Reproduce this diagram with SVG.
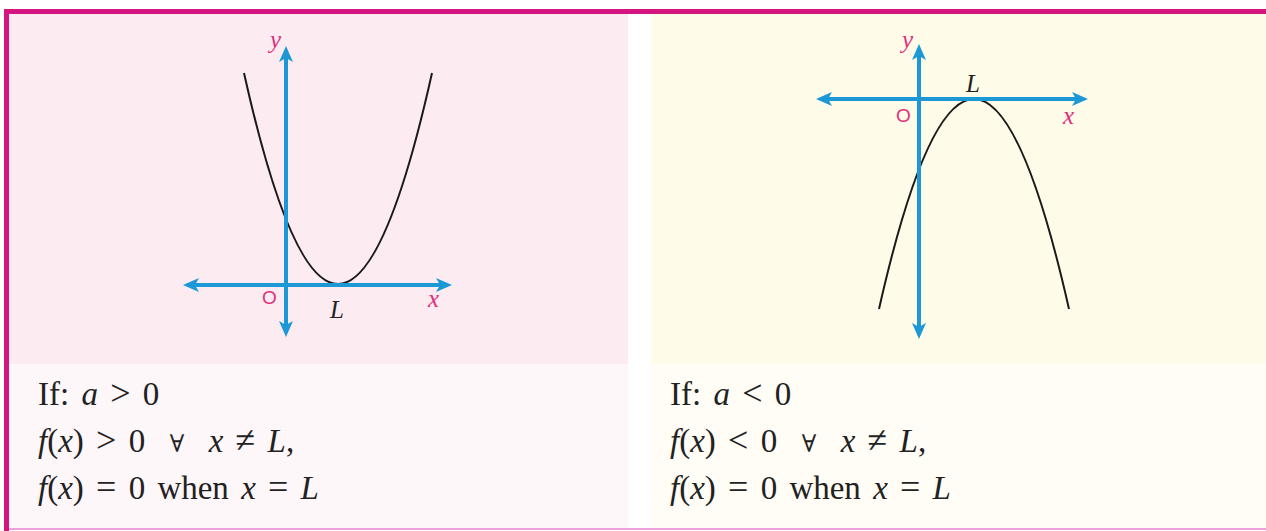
<svg xmlns="http://www.w3.org/2000/svg" width="1266" height="531" viewBox="0 0 1266 531">
<style>
.axis{stroke:#1b98d5;stroke-width:4;fill:none;marker-start:url(#ah);marker-end:url(#ah)}
.curve{stroke:#1a1a1a;stroke-width:2;fill:none}
.lbl{font-family:"Liberation Serif",serif;font-style:italic;fill:#e0307a;font-size:25px}
.org{font-family:"Liberation Sans",sans-serif;fill:#e0307a;font-size:19px}
.L{font-family:"Liberation Serif",serif;font-style:italic;fill:#222;font-size:25px}
.txt{font-family:"Liberation Serif",serif;fill:#222;font-size:33px;word-spacing:4px}
.i{font-style:italic}
.op{font-size:36px}
.fa{font-family:"DejaVu Serif",serif;font-size:24px;font-weight:normal}
</style>
<defs>
<marker id="ah" viewBox="0 0 16 14" refX="12" refY="7" markerWidth="16" markerHeight="14" markerUnits="userSpaceOnUse" orient="auto-start-reverse">
<path d="M0,0 L16,7 L0,14 L4,7 z" fill="#1b98d5"/>
</marker>
</defs>
<rect width="1266" height="531" fill="#ffffff"/>
<g id="panel-left">
<rect x="9" y="14" width="619" height="350" fill="#fdebf2"/>
<rect x="9" y="364" width="619" height="164" fill="#fef7fa"/>
</g>
<g id="panel-right">
<rect x="651" y="14" width="615" height="350" fill="#fffbe9"/>
<rect x="651" y="364" width="615" height="164" fill="#fffdf5"/>
</g>
<g id="frame">
<rect x="4" y="9" width="1262" height="5" fill="#d4157f"/>
<rect x="4" y="9" width="5" height="522" fill="#d4157f"/>
<rect x="9" y="528" width="1257" height="2" fill="#f0a0dc"/>
</g>
<g id="graph-left">
<path class="curve" d="M244,73 Q338,495 432,73"/>
<g id="connectors-left">
<line class="axis" x1="286" y1="333" x2="286" y2="50"/>
<line class="axis" x1="187" y1="285" x2="448" y2="285"/>
</g>
<text class="lbl" x="270" y="48">y</text>
<text class="org" x="262" y="304">O</text>
<text class="L" x="330" y="318">L</text>
<text class="lbl" x="428" y="307">x</text>
</g>
<g id="graph-right">
<path class="curve" d="M879,309 Q974,-111 1069,309"/>
<g id="connectors-right">
<line class="axis" x1="919" y1="335" x2="919" y2="48"/>
<line class="axis" x1="820" y1="99" x2="1084" y2="99"/>
</g>
<text class="lbl" x="902" y="48">y</text>
<text class="L" x="966" y="92">L</text>
<text class="org" x="896" y="122">O</text>
<text class="lbl" x="1063" y="124">x</text>
</g>
<g id="text-left" class="txt">
<text x="38" y="405">If: <tspan class="i">a</tspan> <tspan class="op">&gt;</tspan> 0</text>
<text x="38" y="452" xml:space="preserve"><tspan class="i">f</tspan>(<tspan class="i">x</tspan>) <tspan class="op">&gt;</tspan> 0  <tspan class="fa">∀</tspan>  <tspan class="i">x</tspan> <tspan class="op">≠</tspan> <tspan class="i">L</tspan>,</text>
<text x="38" y="499"><tspan class="i">f</tspan>(<tspan class="i">x</tspan>) <tspan class="op">=</tspan> 0 when <tspan class="i">x</tspan> <tspan class="op">=</tspan> <tspan class="i">L</tspan></text>
</g>
<g id="text-right" class="txt">
<text x="670" y="405">If: <tspan class="i">a</tspan> <tspan class="op">&lt;</tspan> 0</text>
<text x="670" y="452" xml:space="preserve"><tspan class="i">f</tspan>(<tspan class="i">x</tspan>) <tspan class="op">&lt;</tspan> 0  <tspan class="fa">∀</tspan>  <tspan class="i">x</tspan> <tspan class="op">≠</tspan> <tspan class="i">L</tspan>,</text>
<text x="670" y="499"><tspan class="i">f</tspan>(<tspan class="i">x</tspan>) <tspan class="op">=</tspan> 0 when <tspan class="i">x</tspan> <tspan class="op">=</tspan> <tspan class="i">L</tspan></text>
</g>
</svg>
